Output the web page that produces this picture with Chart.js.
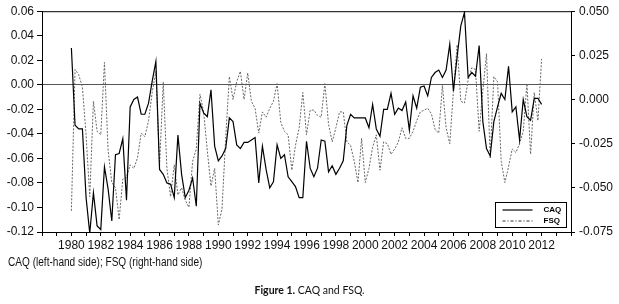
<!DOCTYPE html>
<html>
<head>
<meta charset="utf-8">
<script src="https://cdn.jsdelivr.net/npm/chart.js@4"></script>
<style>
  body { margin: 0; background: #fff; }
  #wrap { position: relative; width: 619px; height: 304px; }
  #note { position: absolute; left: 8px; top: 255px; font: 12px 'Liberation Sans', Arial, sans-serif; color: #111;
          transform: scaleX(0.84); transform-origin: 0 0; white-space: nowrap; }
  #caption { position: absolute; left: 0; width: 619px; top: 284px; text-align: center; font: 10.5px Lato, 'Open Sans', sans-serif; color: #111; }
</style>
</head>
<body>
<div id="wrap">
  <canvas id="chart1" width="619" height="304"></canvas>
  <div id="note">CAQ (left-hand side); FSQ (right-hand side)</div>
  <div id="caption"><b>Figure 1.</b> CAQ and FSQ.</div>
</div>
<script>
// quarterly data, 1980Q1 .. 2012Q1
var startYear = 1980;

var caq = [
  0.030, -0.033, -0.036, -0.036, -0.092, -0.121, -0.088, -0.115,
  -0.118, -0.067, -0.085, -0.111, -0.057, -0.056, -0.044, -0.094,
  -0.018, -0.012, -0.010, -0.024, -0.024, -0.015, 0.003, 0.019,
  -0.069, -0.073, -0.080, -0.081, -0.092, -0.041, -0.073, -0.092,
  -0.086, -0.076, -0.099, -0.015, -0.023, -0.026, -0.004, -0.050,
  -0.062, -0.058, -0.052, -0.027, -0.030, -0.049, -0.052, -0.047,
  -0.047, -0.045, -0.043, -0.080, -0.050, -0.069, -0.084, -0.079,
  -0.049, -0.060, -0.057, -0.075, -0.079, -0.083, -0.092, -0.092,
  -0.046, -0.068, -0.075, -0.068, -0.045, -0.046, -0.071, -0.066,
  -0.073, -0.068, -0.062, -0.033, -0.024, -0.027, -0.027, -0.027,
  -0.027, -0.035, -0.016, -0.036, -0.042, -0.020, -0.020, -0.007,
  -0.024, -0.019, -0.021, -0.014, -0.037, -0.009, -0.019, -0.002,
  -0.001, -0.009, 0.006, 0.010, 0.012, 0.006, 0.012, 0.033,
  -0.005, 0.023, 0.048, 0.059, 0.006, 0.010, 0.007, 0.032,
  -0.030, -0.052, -0.058, -0.030, -0.018, -0.007, -0.012, 0.015,
  -0.022, -0.018, -0.045, -0.012, -0.026, -0.029, -0.011, -0.011,
  -0.016
];

var fsq = [
  -0.063, 0.017, 0.014, 0.007, -0.020, -0.055, -0.001, -0.018,
  -0.020, 0.021, -0.029, -0.047, -0.050, -0.068, -0.045, -0.044,
  -0.037, -0.039, -0.033, -0.019, -0.021, -0.012, 0.004, 0.016,
  -0.038, 0.010, -0.039, -0.055, -0.037, -0.054, -0.050, -0.057,
  -0.061, -0.035, -0.028, 0.003, -0.007, -0.029, -0.049, -0.039,
  -0.071, -0.062, -0.022, 0.013, 0.000, 0.010, 0.016, 0.000,
  0.015, -0.001, -0.005, -0.019, -0.007, -0.010, -0.005, -0.001,
  0.009, -0.013, -0.018, -0.020, -0.040, -0.026, -0.016, 0.004,
  -0.020, -0.006, -0.006, -0.009, -0.010, 0.009, -0.014, -0.024,
  -0.016, -0.007, -0.007, -0.024, -0.026, -0.035, -0.047, -0.022,
  -0.047, -0.039, -0.027, -0.020, -0.040, -0.024, -0.025, -0.031,
  -0.028, -0.024, -0.016, -0.022, -0.022, -0.018, -0.012, -0.007,
  -0.006, -0.005, -0.008, -0.017, -0.019, 0.008, -0.016, -0.025,
  0.005, 0.031, -0.001, -0.002, 0.011, 0.018, 0.017, -0.018,
  0.005, 0.026, -0.033, 0.013, 0.010, -0.035, -0.047, -0.038,
  -0.028, -0.030, -0.025, -0.018, 0.009, -0.031, 0.004, -0.012,
  0.023
];

var leftTicks = [-0.12, 0.06, 0.02];
var rightTicks = [-0.075, 0.05, 0.025];
var yearRange = [1978, 2014];

var quarters = caq.map((v, i) => startYear + i / 4);

var tickFont = { family: "'Liberation Sans', Arial, sans-serif", size: 12 };

// frame round the plot + legend box inside bottom right
var framePlugin = {
  id: 'frame',
  afterDraw(chart) {
    const c = chart.ctx, a = chart.chartArea;
    c.save();
    c.strokeStyle = '#000';
    c.lineWidth = 1;
    c.strokeRect(a.left + 0.5, a.top + 0.5, a.right - a.left, a.bottom - a.top);
    const bw = 71, bh = 25;
    const bx = a.right - bw - 4.5, by = a.bottom - bh - 4.5;
    c.fillStyle = '#fff';
    c.fillRect(bx, by, bw, bh);
    c.strokeRect(bx, by, bw, bh);
    c.beginPath();
    c.lineWidth = 1.2;
    c.moveTo(bx + 7, by + 7.5); c.lineTo(bx + 37, by + 7.5);
    c.stroke();
    c.beginPath();
    c.lineWidth = 1;
    c.strokeStyle = '#333';
    c.setLineDash([3, 2, 1, 2]);
    c.moveTo(bx + 7, by + 18.5); c.lineTo(bx + 37, by + 18.5);
    c.stroke();
    c.setLineDash([]);
    c.fillStyle = '#000';
    c.font = "bold 8px 'Liberation Sans', Arial, sans-serif";
    c.textBaseline = 'middle';
    c.fillText('CAQ', bx + 48, by + 7.5);
    c.fillText('FSQ', bx + 48, by + 18.5);
    c.restore();
  }
};

const ctx = document.getElementById('chart1');
var chart = new Chart(ctx, {
  type: 'line',
  data: {
    datasets: [
      {
        label: 'CAQ',
        data: quarters.map((q, i) => ({ x: q, y: caq[i] })),
        yAxisID: 'y',
        borderColor: '#000',
        borderWidth: 1.2,
        pointRadius: 0,
        tension: 0
      },
      {
        label: 'FSQ',
        data: quarters.map((q, i) => ({ x: q, y: fsq[i] })),
        yAxisID: 'y1',
        borderColor: '#666',
        borderWidth: 1,
        borderDash: [2, 1.5],
        pointRadius: 0,
        tension: 0
      }
    ]
  },
  options: {
    responsive: false,
    animation: false,
    layout: { padding: { top: 10, left: 0, right: 0, bottom: 0 } },
    plugins: { legend: { display: false }, tooltip: { enabled: false } },
    scales: {
      x: {
        type: 'linear',
        min: yearRange[0],
        max: yearRange[1],
        afterFit(s) { s.height = 72; },
        ticks: {
          stepSize: 1,
          autoSkip: false,
          maxRotation: 0,
          padding: 2,
          color: '#111',
          font: tickFont,
          callback: v => (v % 2 === 0 && v >= 1980 && v <= 2012) ? String(v) : ''
        },
        grid: { drawOnChartArea: false, tickLength: 4, tickColor: '#000' },
        border: { color: '#000' }
      },
      y: {
        position: 'left',
        min: leftTicks[0],
        max: leftTicks[1],
        afterFit(s) { s.width = 42; },
        ticks: {
          stepSize: leftTicks[2],
          padding: 3,
          color: '#111',
          font: tickFont,
          callback: v => v.toFixed(2)
        },
        grid: {
          color: c => Math.abs(c.tick.value) < 1e-9 ? '#555' : 'rgba(0,0,0,0)',
          tickColor: '#000',
          tickLength: 5
        },
        border: { color: '#000' }
      },
      y1: {
        position: 'right',
        min: rightTicks[0],
        max: rightTicks[1],
        afterFit(s) { s.width = 48; },
        ticks: {
          stepSize: rightTicks[2],
          padding: 4,
          color: '#111',
          font: tickFont,
          callback: v => v.toFixed(3)
        },
        grid: { drawOnChartArea: false, tickColor: '#000', tickLength: 4 },
        border: { color: '#000' }
      }
    }
  },
  plugins: [framePlugin]
});
</script>
</body>
</html>
